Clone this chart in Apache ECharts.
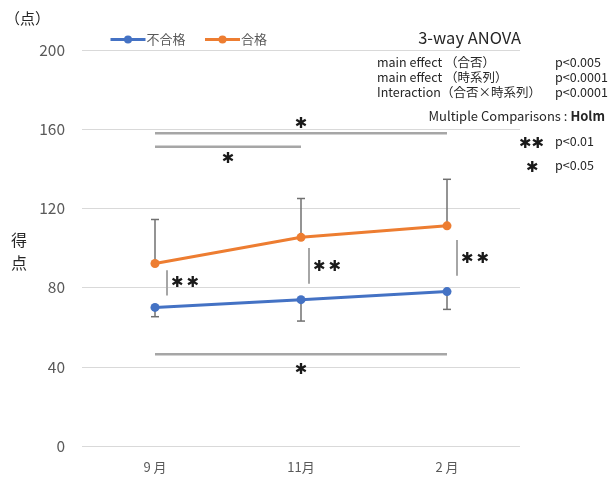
<!DOCTYPE html>
<html>
<head>
<meta charset="utf-8">
<script src="https://cdn.jsdelivr.net/npm/echarts@6/dist/echarts.min.js"></script>
<style>
  html, body { margin: 0; padding: 0; background: #fff; }
  #chart { width: 614px; height: 477px; }
</style>
</head>
<body>
<div id="chart"></div>
<script>
// Test scores by month for failing / passing groups
const months = ['9 月', '11月', '2 月'];
const failMean = [70.0, 73.9, 78.0];
const failLower = [65.3, 63.1, 69.0];   // mean - SD (drawn downward)
const passMean = [92.2, 105.4, 111.2];
const passUpper = [114.4, 125.0, 134.7]; // mean + SD (drawn upward)
const yTicks = [0, 40, 80, 120, 160, 200];

// Significance brackets across months
const horizBrackets = [
  { from: 0, to: 2, y: 158.0, mark: '✱', markY: 162.5 },
  { from: 0, to: 1, y: 151.1, mark: '✱', markY: 145.0 },
  { from: 0, to: 2, y: 46.3, mark: '✱', markY: 38.5 }
];
// Comparison markers between groups at each month
const vertBrackets = [
  { idx: 0, lo: 76.0, hi: 88.8, mark: '✱\u2009✱', markY: 82.2 },
  { idx: 1, lo: 82.0, hi: 100.0, mark: '✱\u2009✱', markY: 90.4 },
  { idx: 2, lo: 86.0, hi: 104.0, mark: '✱\u2009✱', markY: 94.4 }
];

const BLUE = '#4472C4';
const ORANGE = '#ED7D31';
const GRAY_TXT = '#595959';
const FONT = '"Noto Sans CJK JP", "Noto Sans", sans-serif';
const STAR_FONT = '"DejaVu Sans", sans-serif';

const chart = echarts.init(document.getElementById('chart'));

function errorBarSeries(means, ends, name) {
  return {
    type: 'custom',
    name: name,
    z: 1,
    silent: true,
    data: means.map((m, i) => [i, m, ends[i]]),
    renderItem: function (params, api) {
      const p0 = api.coord([api.value(0), api.value(1)]);
      const p1 = api.coord([api.value(0), api.value(2)]);
      const style = { stroke: '#707070', lineWidth: 1.5 };
      return {
        type: 'group',
        children: [
          { type: 'line', shape: { x1: p0[0], y1: p0[1], x2: p1[0], y2: p1[1] }, style: style },
          { type: 'line', shape: { x1: p1[0] - 4, y1: p1[1], x2: p1[0] + 4, y2: p1[1] }, style: style }
        ]
      };
    }
  };
}

const option = {
  animation: false,
  grid: { left: 82, right: 94, top: 50, bottom: 31 },
  legend: {
    left: 104, top: 28,
    itemWidth: 35, itemHeight: 10, itemGap: 18,
    lineStyle: { width: 3 },
    textStyle: { color: GRAY_TXT, fontSize: 13, fontFamily: FONT, padding: [0, 0, 0, -4] },
    data: ['不合格', '合格']
  },
  xAxis: {
    type: 'category',
    data: months,
    boundaryGap: true,
    axisLine: { show: false },
    axisTick: { show: false },
    axisLabel: { color: GRAY_TXT, fontSize: 13, fontFamily: FONT, margin: 15 }
  },
  yAxis: {
    type: 'value',
    min: yTicks[0], max: yTicks[yTicks.length - 1], interval: 40,
    axisLine: { show: false },
    axisTick: { show: false },
    axisLabel: { color: GRAY_TXT, fontSize: 15.5, fontFamily: FONT, margin: 17 },
    splitLine: { lineStyle: { color: '#D9D9D9', width: 1 } }
  },
  series: [
    errorBarSeries(failMean, failLower, 'errFail'),
    errorBarSeries(passMean, passUpper, 'errPass'),
    {
      name: '不合格', type: 'line', data: failMean, z: 3,
      symbol: 'circle', symbolSize: 9,
      lineStyle: { color: BLUE, width: 3 },
      itemStyle: { color: BLUE }
    },
    {
      name: '合格', type: 'line', data: passMean, z: 3,
      symbol: 'circle', symbolSize: 9,
      lineStyle: { color: ORANGE, width: 3 },
      itemStyle: { color: ORANGE }
    }
  ]
};
chart.setOption(option);

// Bracket lines and significance marks placed from data coordinates
function px(idx, val) { return chart.convertToPixel({ gridIndex: 0 }, [idx, val]); }
const starStyle = { fontSize: 15, fontFamily: STAR_FONT, fill: '#1a1a1a' };
const graphics = [];
horizBrackets.forEach(b => {
  const a = px(b.from, b.y), c = px(b.to, b.y);
  graphics.push({ type: 'line', z: 5, shape: { x1: a[0], y1: a[1], x2: c[0], y2: c[1] },
    style: { stroke: '#A6A6A6', lineWidth: 2.5 } });
  const m = px(b.from, b.markY), n = px(b.to, b.markY);
  graphics.push({ type: 'text', z: 5, x: (m[0] + n[0]) / 2, y: m[1],
    style: Object.assign({ text: b.mark, align: 'center', verticalAlign: 'middle' }, starStyle) });
});
vertBrackets.forEach(b => {
  const a = px(b.idx, b.lo), c = px(b.idx, b.hi);
  const x = a[0] + [12, 8, 10][b.idx];
  graphics.push({ type: 'line', z: 5, shape: { x1: x, y1: a[1], x2: x, y2: c[1] },
    style: { stroke: '#A6A6A6', lineWidth: 2 } });
  const m = px(b.idx, b.markY);
  graphics.push({ type: 'text', z: 5, x: x + 4, y: m[1],
    style: Object.assign({ text: b.mark, align: 'left', verticalAlign: 'middle' }, starStyle) });
});

// Axis titles and ANOVA summary
const txt = (text, x, y, extra) => ({
  type: 'text', x: x, y: y, z: 6,
  style: Object.assign({ text: text, fontFamily: FONT, fontSize: 12.5, fill: '#262626',
    align: 'left', verticalAlign: 'middle' }, extra || {})
});
graphics.push(txt('（点）', 5, 18, { fontSize: 15, fill: '#262626' }));
graphics.push(txt('得', 11, 240, { fontSize: 16 }));
graphics.push(txt('点', 11, 263, { fontSize: 16 }));
graphics.push(txt('3-way ANOVA', 521, 38, { fontSize: 16.5, align: 'right', fill: '#262626' }));
graphics.push(txt('main effect （合否）', 377, 62));
graphics.push(txt('main effect （時系列）', 377, 77));
graphics.push(txt('Interaction（合否×時系列）', 377, 92));
graphics.push(txt('p<0.005', 555, 62));
graphics.push(txt('p<0.0001', 555, 77));
graphics.push(txt('p<0.0001', 555, 92));
graphics.push({
  type: 'text', x: 605, y: 116, z: 6,
  style: {
    text: '{n|Multiple Comparisons : }{b|Holm}', align: 'right', verticalAlign: 'middle',
    rich: {
      n: { fontFamily: FONT, fontSize: 13, fill: '#262626' },
      b: { fontFamily: FONT, fontSize: 13, fill: '#262626', fontWeight: 'bold' }
    }
  }
});
graphics.push(txt('✱✱', 519, 144, { fontSize: 15, fontFamily: STAR_FONT, fill: '#1a1a1a' }));
graphics.push(txt('✱', 526, 168, { fontSize: 15, fontFamily: STAR_FONT, fill: '#1a1a1a' }));
graphics.push(txt('p<0.01', 555, 141));
graphics.push(txt('p<0.05', 555, 165));

chart.setOption({ graphic: { elements: graphics } });
</script>
</body>
</html>
